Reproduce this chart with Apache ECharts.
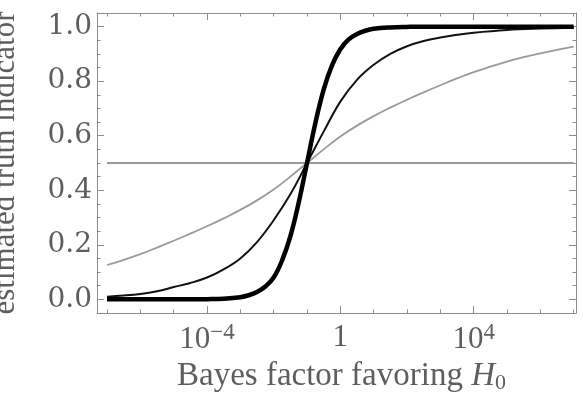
<!DOCTYPE html>
<html>
<head>
<meta charset="utf-8">
<script src="https://cdn.jsdelivr.net/npm/echarts@6/dist/echarts.min.js"></script>
<style>
html,body{margin:0;padding:0;background:#fff;}
#chart{width:583px;height:400px;}
</style>
</head>
<body>
<div id="chart"></div>
<script>
// log10(Bayes factor) sample positions and estimated truth indicator values
const grayX = [-7, -6.5, -6, -5.5, -5, -4.5, -4, -3.5, -3, -2.5, -2, -1.5, -1, -0.5, 0, 0.5, 1, 1.5, 2, 2.5, 3, 3.5, 4, 4.5, 5, 5.5, 6, 6.5, 7];
const grayY = [0.126, 0.145, 0.166, 0.19, 0.215, 0.241, 0.268, 0.297, 0.328, 0.363, 0.403, 0.45, 0.50, 0.55, 0.597, 0.637, 0.672, 0.703, 0.732, 0.759, 0.785, 0.81, 0.833, 0.853, 0.872, 0.888, 0.902, 0.915, 0.927];

const thinX = [-7, -6.5, -6, -5.5, -5, -4.5, -4, -3.5, -3, -2.5, -2, -1.5, -1, -0.5, 0, 0.5, 1, 1.5, 2, 2.5, 3, 3.5, 4, 5, 6, 7];
const thinY = [0.01, 0.014, 0.02, 0.03, 0.045, 0.06, 0.08, 0.11, 0.15, 0.21, 0.29, 0.385, 0.5, 0.615, 0.725, 0.805, 0.86, 0.90, 0.928, 0.947, 0.96, 0.97, 0.978, 0.988, 0.993, 0.996];

const thickX = [-7, -6, -5, -4.5, -4, -3.5, -3, -2.75, -2.5, -2.25, -2, -1.75, -1.5, -1.25, -1, -0.75, -0.5, -0.25, 0, 0.25, 0.5, 0.75, 1, 1.5, 2, 2.5, 3, 4, 5, 6, 7];
const thickY = [0, 0, 0, 0.0002, 0.0008, 0.0025, 0.008, 0.015, 0.027, 0.047, 0.08, 0.142, 0.231, 0.354, 0.5, 0.646, 0.769, 0.858, 0.917, 0.953, 0.973, 0.985, 0.992, 0.997, 0.999, 1, 1, 1, 1, 1, 1];

const refX = [-7, 7];
const refY = [0.5, 0.5];

const xMajorTicks = [-4, 0, 4];
const xMinorTicks = [-7, -6, -5, -3, -2, -1, 1, 2, 3, 5, 6, 7];
const yMajorTicks = [0, 0.2, 0.4, 0.6, 0.8, 1.0];
const yMinorTicks = [0.05, 0.1, 0.15, 0.25, 0.3, 0.35, 0.45, 0.5, 0.55, 0.65, 0.7, 0.75, 0.85, 0.9, 0.95];

const xTitle = 'Bayes factor favoring ';
const yTitle = 'estimated truth indicator';

const FONT = "'Liberation Serif', 'DejaVu Serif', serif";
const NUMFONT = "'DejaVu Serif', serif";
const TXT = '#5e5e5e';
const FRAME = '#8c8c8c';
const XMIN = -7.3, XMAX = 7.07, YMIN = -0.05, YMAX = 1.05;

function pairs(xs, ys) { return xs.map((x, i) => [x, ys[i]]); }

function xAxisDef(pos, ticks, len, labels, line) {
  return {
    type: 'value', position: pos, min: XMIN, max: XMAX,
    axisLine: { show: line, onZero: false, lineStyle: { color: FRAME, width: 1 } },
    axisTick: { show: true, inside: true, length: len, customValues: ticks, lineStyle: { color: FRAME, width: 1 } },
    axisLabel: labels ? {
      show: true, customValues: ticks, margin: 8,
      formatter: function (v) {
        if (Math.abs(v) < 1e-9) return '{c|1}';
        return '{b|10}{s|' + (v < 0 ? '\u2212' : '') + Math.abs(v) + '}';
      },
      rich: {
        b: { fontFamily: FONT, fontSize: 31, lineHeight: 31, color: TXT, padding: [6, 0, 0, 0] },
        c: { fontFamily: FONT, fontSize: 31, lineHeight: 31, color: TXT, padding: [3, 0, 0, 0] },
        s: { fontFamily: FONT, fontSize: 23, lineHeight: 23, color: TXT, verticalAlign: 'top' }
      }
    } : { show: false },
    splitLine: { show: false }
  };
}
function yAxisDef(pos, ticks, len, labels, line) {
  return {
    type: 'value', position: pos, min: YMIN, max: YMAX,
    axisLine: { show: line, onZero: false, lineStyle: { color: FRAME, width: 1 } },
    axisTick: { show: true, inside: true, length: len, customValues: ticks, lineStyle: { color: FRAME, width: 1 } },
    axisLabel: labels ? {
      show: true, customValues: ticks, margin: 5,
      fontFamily: NUMFONT, fontSize: 28, color: TXT,
      formatter: v => v.toFixed(1)
    } : { show: false },
    splitLine: { show: false }
  };
}

const xs = [
  xAxisDef('bottom', xMajorTicks, 7, true, true),
  xAxisDef('bottom', xMinorTicks, 3.5, false, false),
  xAxisDef('top', xMajorTicks, 7, false, true),
  xAxisDef('top', xMinorTicks, 3.5, false, false)
];
xs[0].name = '{t|' + xTitle + '}{i|H}{u|0}';
xs[0].nameLocation = 'middle';
xs[0].nameGap = 33;
xs[0].nameTextStyle = {
  rich: {
    t: { fontFamily: FONT, fontSize: 33, lineHeight: 33, color: TXT, padding: [0, 0, 3, 10] },
    i: { fontFamily: FONT, fontSize: 33, lineHeight: 33, color: TXT, fontStyle: 'italic', padding: [0, 0, 3, 0] },
    u: { fontFamily: FONT, fontSize: 22, lineHeight: 22, color: TXT, verticalAlign: 'bottom' }
  }
};
const ys = [
  yAxisDef('left', yMajorTicks, 7, true, true),
  yAxisDef('left', yMinorTicks, 3.5, false, false),
  yAxisDef('right', yMajorTicks, 7, false, true),
  yAxisDef('right', yMinorTicks, 3.5, false, false)
];
ys[0].name = yTitle;
ys[0].nameLocation = 'middle';
ys[0].nameGap = 76;
ys[0].nameTextStyle = { fontFamily: FONT, fontSize: 31, color: TXT };

const chart = echarts.init(document.getElementById('chart'), null, { renderer: 'canvas' });
chart.setOption({
  animation: false,
  backgroundColor: '#ffffff',
  grid: { left: 97, right: 7, top: 13, bottom: 87, containLabel: false, outerBoundsMode: 'none' },
  xAxis: xs,
  yAxis: ys,
  series: [
    { type: 'line', data: pairs(refX, refY), showSymbol: false, lineStyle: { color: '#9a9a9a', width: 2 }, z: 2 },
    { type: 'line', data: pairs(grayX, grayY), showSymbol: false, smooth: 0.4, lineStyle: { color: '#9a9a9a', width: 1.8 }, z: 3 },
    { type: 'line', data: pairs(thinX, thinY), showSymbol: false, smooth: 0.4, lineStyle: { color: '#111', width: 2 }, z: 4 },
    { type: 'line', data: pairs(thickX, thickY), showSymbol: false, smooth: 0.4, lineStyle: { color: '#000', width: 4.5 }, z: 5 }
  ]
});
</script>
</body>
</html>
